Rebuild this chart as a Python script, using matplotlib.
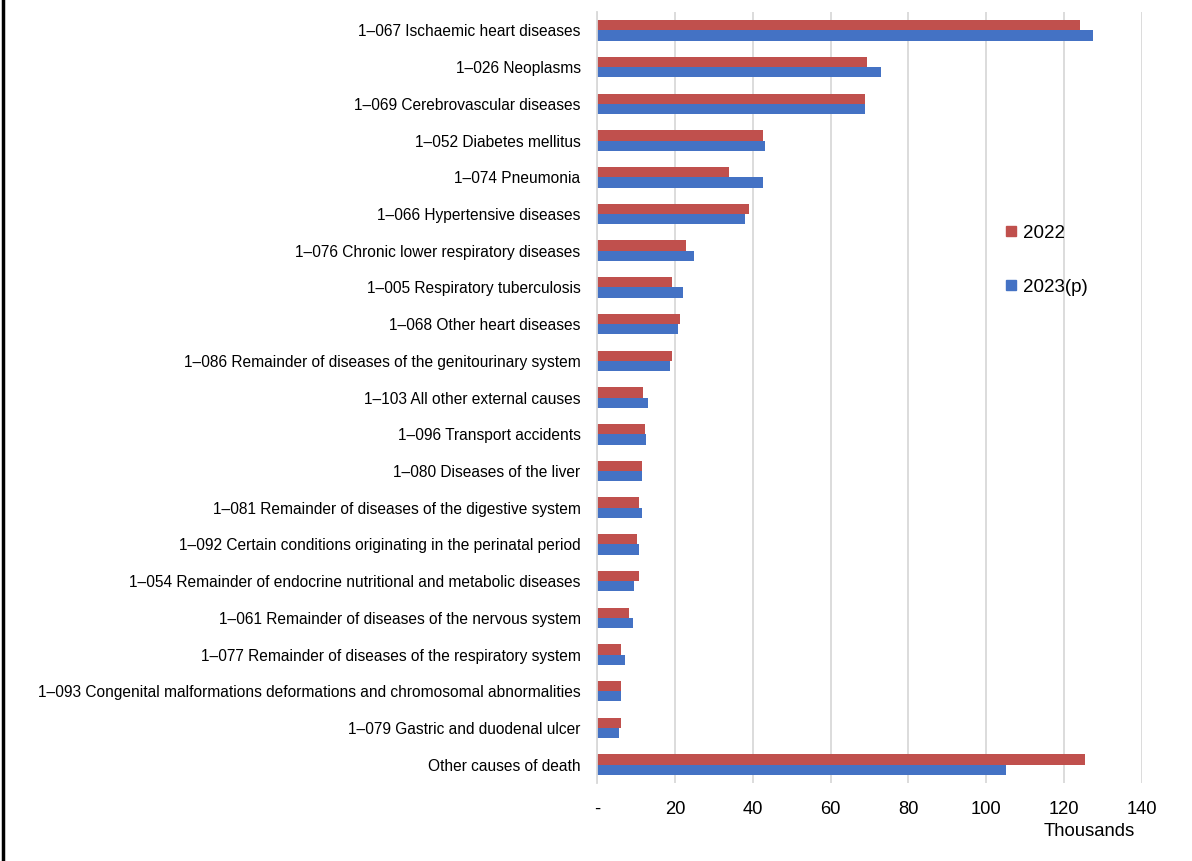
import numpy as np
import matplotlib.pyplot as plt
from matplotlib.lines import Line2D

plt.rcParams['font.family'] = ['Liberation Sans', 'DejaVu Sans']

causes = [
    "1–067 Ischaemic heart diseases",
    "1–026 Neoplasms",
    "1–069 Cerebrovascular diseases",
    "1–052 Diabetes mellitus",
    "1–074 Pneumonia",
    "1–066 Hypertensive diseases",
    "1–076 Chronic lower respiratory diseases",
    "1–005 Respiratory tuberculosis",
    "1–068 Other heart diseases",
    "1–086 Remainder of diseases of the genitourinary system",
    "1–103 All other external causes",
    "1–096 Transport accidents",
    "1–080 Diseases of the liver",
    "1–081 Remainder of diseases of the digestive system",
    "1–092 Certain conditions originating in the perinatal period",
    "1–054 Remainder of endocrine nutritional and metabolic diseases",
    "1–061 Remainder of diseases of the nervous system",
    "1–077 Remainder of diseases of the respiratory system",
    "1–093 Congenital malformations deformations and chromosomal abnormalities",
    "1–079 Gastric and duodenal ulcer",
    "Other causes of death",
]
deaths_2022 = [124.0, 69.4, 68.7, 42.7, 33.9, 38.9, 22.8, 19.3, 21.3, 19.1, 11.9,
               12.2, 11.5, 10.8, 10.3, 10.8, 8.3, 6.0, 6.0, 6.0, 125.3]
deaths_2023 = [127.4, 72.9, 68.7, 43.1, 42.7, 38.0, 25.0, 22.1, 20.8, 18.7, 13.1,
               12.6, 11.5, 11.5, 10.8, 9.4, 9.2, 7.1, 6.2, 5.7, 105.1]

red = '#C0504D'
blue = '#4472C4'

fig = plt.figure(figsize=(11.92, 8.61), dpi=100)
ax = fig.add_axes([0.501, 0.0906, 0.457, 0.8954])

y = np.arange(len(causes))
h = 0.28
ax.barh(y - h / 2, deaths_2022, height=h, color=red, label='2022')
ax.barh(y + h / 2, deaths_2023, height=h, color=blue, label='2023(p)')

ax.set_ylim(len(causes) - 0.5, -0.5)
ax.set_xlim(0, 140)
ax.set_yticks(y)
ax.set_yticklabels(causes, fontsize=11.2)
ticks = [0, 20, 40, 60, 80, 100, 120, 140]
ax.set_xticks(ticks)
ax.set_xticklabels(['-'] + [str(t) for t in ticks[1:]], fontsize=13.2)
ax.tick_params(axis='both', length=0)
ax.tick_params(axis='x', pad=13)
ax.tick_params(axis='y', pad=12)

ax.grid(axis='x', color='#D9D9D9', linewidth=1.3)
ax.set_axisbelow(True)
for s in ['top', 'right', 'bottom']:
    ax.spines[s].set_visible(False)
ax.spines['left'].set_color('#D9D9D9')
ax.spines['left'].set_linewidth(1.3)

fig.text(1089 / 1192, 1 - 832 / 861, 'Thousands', ha='center', va='center', fontsize=13.3)

handles = [Line2D([], [], marker='s', linestyle='none', color=red, markersize=7),
           Line2D([], [], marker='s', linestyle='none', color=blue, markersize=7)]
fig.legend(handles, ['2022', '2023(p)'], loc='upper left',
           bbox_to_anchor=(985 / 1192, 1 - 208 / 861), frameon=False,
           fontsize=13.5, labelspacing=1.95, handletextpad=0.15, handlelength=1.0)

fig.add_artist(Line2D([3 / 1192, 3 / 1192], [0, 1], color='black', linewidth=2.5))

plt.savefig('out.png', dpi=100)
